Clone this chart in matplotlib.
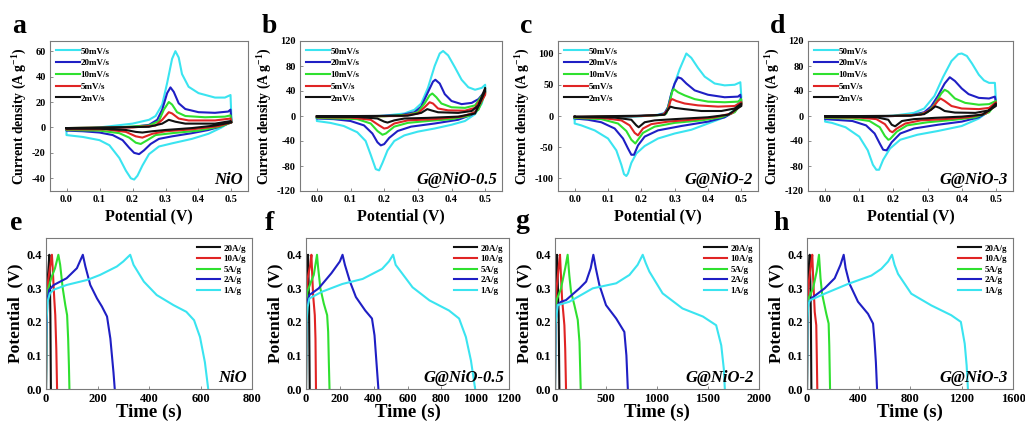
import matplotlib
matplotlib.use("Agg")
import matplotlib.pyplot as plt
from matplotlib.ticker import FormatStrFormatter

plt.rcParams['font.family'] = 'Liberation Serif'
plt.rcParams['font.weight'] = 'bold'
plt.rcParams['axes.unicode_minus'] = False
plt.rcParams['mathtext.fontset'] = 'custom'
plt.rcParams['mathtext.rm'] = 'Liberation Serif:bold'
plt.rcParams['mathtext.bf'] = 'Liberation Serif:bold'
plt.rcParams['mathtext.default'] = 'rm'

samples = ['NiO', 'G@NiO-0.5', 'G@NiO-2', 'G@NiO-3']
scan_labels = ['50mV/s', '20mV/s', '10mV/s', '5mV/s', '2mV/s']
scan_colors = ['#3ae4f0', '#1f1fc4', '#2fe02f', '#e02424', '#111111']
rate_labels = ['20A/g', '10A/g', '5A/g', '2A/g', '1A/g']
rate_colors = ['#111111', '#e02424', '#2fe02f', '#1f1fc4', '#3ae4f0']

# ---- CV loops (potential V, current density A/g): anodic sweep then cathodic sweep
nio_50 = [(0, -2), (0.1, 0), (0.2, 3), (0.25, 6), (0.27, 9), (0.29, 18), (0.305, 35), (0.32, 54), (0.33, 60),
          (0.34, 55), (0.35, 42), (0.37, 32), (0.4, 27), (0.45, 23.5), (0.48, 23.5), (0.497, 25.5),
          (0.5, 5), (0.47, 0), (0.43, -5), (0.38, -9), (0.32, -12.5), (0.28, -15), (0.25, -21), (0.23, -30),
          (0.215, -38), (0.205, -41), (0.195, -40), (0.18, -34), (0.16, -24), (0.13, -14), (0.1, -10),
          (0.05, -7.5), (0, -6)]
nio_20 = [(0, -1), (0.1, -0.5), (0.2, 0.5), (0.25, 2), (0.275, 6), (0.29, 14), (0.305, 27), (0.315, 31.5),
          (0.325, 28), (0.34, 19), (0.36, 14.5), (0.4, 12), (0.45, 11.5), (0.49, 12.5), (0.497, 14),
          (0.5, 4), (0.47, 1), (0.43, -2), (0.38, -4.5), (0.32, -7), (0.28, -9), (0.255, -13), (0.235, -18),
          (0.22, -21), (0.205, -20), (0.19, -16), (0.17, -10), (0.14, -6), (0.1, -4), (0.05, -3), (0, -2.5)]
nio_10 = [(0, -0.5), (0.15, 0), (0.25, 1.5), (0.28, 5), (0.295, 14), (0.31, 20), (0.32, 18), (0.335, 12),
          (0.36, 9), (0.42, 8), (0.48, 8.5), (0.497, 9.5),
          (0.5, 4), (0.47, 1), (0.4, -2.5), (0.32, -4.5), (0.27, -6), (0.245, -10), (0.225, -13), (0.21, -12),
          (0.19, -8), (0.16, -4.5), (0.1, -2.5), (0, -2)]
nio_5 = [(0, -0.5), (0.2, 0), (0.27, 1.5), (0.29, 6), (0.31, 12), (0.32, 11), (0.34, 7), (0.37, 5.5),
         (0.45, 5.5), (0.497, 7),
         (0.5, 4), (0.46, 1), (0.38, -1.5), (0.3, -3), (0.26, -5), (0.23, -8), (0.21, -7), (0.18, -3.5),
         (0.12, -1.5), (0, -1.5)]
nio_2 = [(0, -0.5), (0.25, 0.5), (0.29, 3), (0.31, 6), (0.33, 4.5), (0.36, 3), (0.45, 3), (0.497, 5),
         (0.5, 4), (0.45, 1.5), (0.38, -0.5), (0.3, -2), (0.26, -3), (0.23, -4), (0.21, -3.5), (0.18, -2),
         (0.1, -1), (0, -1)]

g05_50 = [(0, -3), (0.1, -2), (0.2, 0.5), (0.26, 4), (0.29, 10), (0.31, 20), (0.33, 45), (0.35, 80),
          (0.365, 100), (0.375, 104), (0.39, 97), (0.41, 78), (0.43, 58), (0.45, 46), (0.47, 42), (0.49, 45),
          (0.5, 50),
          (0.5, 42), (0.49, 20), (0.47, 3), (0.44, -8), (0.4, -14), (0.35, -20), (0.3, -25), (0.26, -31),
          (0.23, -40), (0.21, -55), (0.195, -75), (0.185, -87), (0.175, -85), (0.16, -62), (0.145, -40),
          (0.12, -26), (0.08, -16), (0.04, -11), (0, -8)]
g05_20 = [(0, -2), (0.15, -1), (0.25, 1.5), (0.29, 6), (0.31, 15), (0.33, 38), (0.345, 55), (0.352, 58),
          (0.365, 52), (0.38, 35), (0.4, 24), (0.43, 19), (0.46, 21), (0.48, 27), (0.5, 40),
          (0.5, 38), (0.48, 12), (0.46, 2), (0.42, -6), (0.35, -12), (0.28, -17), (0.24, -24), (0.215, -35),
          (0.2, -45), (0.19, -47), (0.18, -42), (0.165, -28), (0.14, -15), (0.1, -8), (0.05, -5), (0, -4)]
g05_10 = [(0, -1.5), (0.2, -0.5), (0.27, 2), (0.3, 6), (0.32, 20), (0.335, 33), (0.343, 36), (0.355, 30),
          (0.37, 20), (0.4, 14), (0.44, 13), (0.47, 17), (0.5, 40),
          (0.5, 36), (0.48, 10), (0.45, 0), (0.4, -5), (0.33, -8), (0.27, -11), (0.23, -17), (0.205, -28),
          (0.195, -30), (0.18, -24), (0.16, -12), (0.12, -5), (0, -3)]
g05_5 = [(0, -1), (0.25, 0), (0.3, 4), (0.32, 14), (0.335, 22), (0.345, 20), (0.36, 12), (0.39, 9),
         (0.44, 8.5), (0.47, 13), (0.5, 38),
         (0.5, 34), (0.47, 6), (0.43, -1), (0.35, -5), (0.27, -7), (0.23, -12), (0.21, -19), (0.2, -20),
         (0.185, -15), (0.16, -6), (0.1, -2.5), (0, -2)]
g05_2 = [(0, -0.5), (0.27, 0.5), (0.31, 5), (0.328, 11), (0.34, 9), (0.36, 6), (0.42, 5), (0.46, 8),
         (0.48, 17), (0.5, 45),
         (0.5, 40), (0.47, 4), (0.42, -1), (0.33, -3), (0.26, -4), (0.23, -7), (0.21, -10.5), (0.2, -9),
         (0.18, -4), (0.12, -1.5), (0, -1)]

g2_50 = [(0, -5), (0.1, -3), (0.2, -0.5), (0.25, 2), (0.27, 5), (0.28, 14), (0.29, 35), (0.3, 52),
         (0.315, 75), (0.335, 100), (0.35, 93), (0.37, 77), (0.39, 63), (0.42, 52), (0.45, 49), (0.48, 50),
         (0.497, 54),
         (0.5, 30), (0.48, 10), (0.45, -2), (0.4, -12), (0.35, -22), (0.3, -28), (0.25, -36), (0.21, -48),
         (0.185, -60), (0.17, -75), (0.16, -92), (0.155, -96), (0.148, -93), (0.14, -78), (0.125, -55),
         (0.1, -36), (0.06, -23), (0.02, -15), (0, -12)]
g2_20 = [(0, -3), (0.15, -1), (0.25, 1.5), (0.27, 4), (0.28, 14), (0.29, 36), (0.3, 52), (0.31, 62),
         (0.32, 60), (0.335, 52), (0.36, 41), (0.4, 34), (0.45, 30), (0.49, 31), (0.497, 34),
         (0.5, 22), (0.48, 7), (0.45, -2), (0.4, -9), (0.32, -16), (0.25, -23), (0.21, -33), (0.19, -47),
         (0.178, -62), (0.17, -62), (0.16, -52), (0.145, -36), (0.12, -20), (0.08, -10), (0.04, -6), (0, -4)]
g2_10 = [(0, -2), (0.2, 0), (0.26, 1.5), (0.275, 4), (0.285, 22), (0.293, 40), (0.298, 43), (0.31, 38),
         (0.33, 33), (0.36, 27), (0.4, 23), (0.45, 22), (0.49, 23), (0.5, 27),
         (0.5, 20), (0.48, 6), (0.44, -2), (0.38, -7), (0.3, -11), (0.24, -17), (0.205, -27), (0.19, -38),
         (0.182, -44), (0.17, -38), (0.155, -24), (0.13, -12), (0.08, -5), (0, -3)]
g2_5 = [(0, -1.5), (0.2, 0), (0.265, 2), (0.28, 10), (0.288, 25), (0.293, 27), (0.305, 24), (0.33, 20),
        (0.37, 17), (0.43, 15), (0.48, 16), (0.5, 22),
        (0.5, 18), (0.47, 4), (0.42, -2), (0.35, -6), (0.28, -9), (0.23, -13), (0.205, -20), (0.19, -31),
        (0.18, -27), (0.165, -15), (0.14, -7), (0.08, -3), (0, -2)]
g2_2 = [(0, -1), (0.2, 0.5), (0.27, 2), (0.28, 10), (0.287, 15), (0.3, 13), (0.33, 11), (0.38, 8),
        (0.44, 8), (0.48, 12), (0.5, 20),
        (0.5, 16), (0.46, 2), (0.4, -2), (0.3, -5), (0.24, -7), (0.21, -10), (0.192, -18), (0.185, -15),
        (0.17, -6), (0.12, -2.5), (0, -1.5)]

g3_50 = [(0, -3), (0.1, -2), (0.2, 0.5), (0.26, 5), (0.29, 12), (0.32, 32), (0.345, 62), (0.37, 88),
         (0.39, 99), (0.4, 100), (0.415, 96), (0.43, 84), (0.45, 66), (0.465, 57), (0.48, 53), (0.497, 53),
         (0.5, 25), (0.48, 8), (0.45, -4), (0.4, -16), (0.33, -24), (0.27, -30), (0.22, -38), (0.19, -52),
         (0.17, -70), (0.158, -86), (0.15, -86), (0.14, -78), (0.125, -55), (0.1, -33), (0.06, -18),
         (0.02, -11), (0, -9)]
g3_20 = [(0, -2), (0.15, -1), (0.25, 1), (0.29, 6), (0.31, 15), (0.33, 32), (0.35, 52), (0.365, 62),
         (0.38, 56), (0.4, 44), (0.42, 35), (0.45, 29), (0.48, 28), (0.497, 31),
         (0.5, 22), (0.48, 7), (0.45, -2), (0.4, -9), (0.33, -14), (0.26, -20), (0.22, -28), (0.195, -42),
         (0.18, -55), (0.17, -54), (0.16, -44), (0.145, -28), (0.12, -15), (0.08, -8), (0, -5)]
g3_10 = [(0, -1.5), (0.2, 0), (0.27, 2), (0.3, 6), (0.32, 18), (0.34, 36), (0.35, 42), (0.36, 39),
         (0.38, 28), (0.41, 21), (0.45, 18), (0.48, 19), (0.5, 24),
         (0.5, 20), (0.48, 6), (0.44, -2), (0.38, -6), (0.3, -10), (0.24, -15), (0.21, -25), (0.19, -37),
         (0.185, -38), (0.175, -32), (0.16, -18), (0.13, -8), (0.08, -4), (0, -3)]
g3_5 = [(0, -1), (0.2, 0), (0.28, 2), (0.31, 10), (0.33, 24), (0.338, 28), (0.35, 24), (0.37, 16),
        (0.4, 12), (0.45, 11), (0.48, 13), (0.5, 22),
        (0.5, 18), (0.47, 4), (0.42, -2), (0.35, -5), (0.28, -7), (0.235, -12), (0.21, -20), (0.197, -26),
        (0.19, -24), (0.175, -13), (0.15, -5), (0.1, -2.5), (0, -2)]
g3_2 = [(0, -0.5), (0.25, 0.5), (0.29, 3), (0.31, 10), (0.323, 15.5), (0.335, 13), (0.35, 8), (0.38, 5.5),
        (0.44, 5), (0.48, 9), (0.5, 20),
        (0.5, 16), (0.46, 2), (0.4, -1), (0.32, -3), (0.26, -5), (0.225, -8), (0.205, -16.5), (0.195, -14),
        (0.185, -6), (0.15, -2), (0, -1)]

cv_sets = [[nio_50, nio_20, nio_10, nio_5, nio_2],
           [g05_50, g05_20, g05_10, g05_5, g05_2],
           [g2_50, g2_20, g2_10, g2_5, g2_2],
           [g3_50, g3_20, g3_10, g3_5, g3_2]]

# ---- charge/discharge curves (time s, potential V), order 20, 10, 5, 2, 1 A/g
nio_gcd_20 = [(0, 0), (2, 0.26), (7, 0.33), (13, 0.4), (15, 0.33), (17, 0.22), (19, 0)]
nio_gcd_10 = [(0, 0), (2, 0.25), (8, 0.32), (15, 0.36), (23, 0.4), (26, 0.36), (32, 0.27), (36, 0.22),
              (40, 0.12), (43, 0)]
nio_gcd_5 = [(0, 0), (2, 0.22), (6, 0.29), (20, 0.33), (35, 0.36), (48, 0.4), (55, 0.37), (65, 0.3),
             (75, 0.25), (82, 0.22), (86, 0.15), (89, 0.07), (91, 0)]
nio_gcd_2 = [(0, 0), (1, 0.15), (5, 0.26), (12, 0.295), (30, 0.31), (80, 0.33), (120, 0.36), (143, 0.4),
             (153, 0.365), (172, 0.31), (198, 0.27), (217, 0.246), (237, 0.216), (250, 0.15), (262, 0.05),
             (267, 0)]
nio_gcd_1 = [(0, 0), (2, 0.2), (6, 0.26), (15, 0.285), (30, 0.296), (80, 0.31), (160, 0.325), (210, 0.34),
             (275, 0.365), (300, 0.38), (327, 0.4), (340, 0.37), (360, 0.345), (380, 0.32), (430, 0.28),
             (495, 0.25), (545, 0.23), (575, 0.205), (598, 0.155), (617, 0.08), (630, 0)]

g05_gcd_20 = [(0, 0), (2, 0.25), (8, 0.35), (12, 0.4), (15, 0.33), (18, 0.25), (22, 0)]
g05_gcd_10 = [(0, 0), (2, 0.26), (10, 0.33), (25, 0.37), (32, 0.4), (36, 0.35), (42, 0.28), (52, 0.22),
              (56, 0.15), (59, 0)]
g05_gcd_5 = [(0, 0), (2, 0.25), (8, 0.29), (30, 0.32), (46, 0.34), (65, 0.4), (72, 0.36), (85, 0.3),
             (105, 0.255), (125, 0.22), (131, 0.17), (135, 0.08), (139, 0)]
g05_gcd_2 = [(0, 0), (2, 0.22), (8, 0.26), (20, 0.28), (75, 0.3), (150, 0.345), (200, 0.38), (216, 0.4),
             (230, 0.37), (260, 0.32), (295, 0.274), (350, 0.234), (390, 0.21), (405, 0.16), (415, 0.09),
             (428, 0)]
g05_gcd_1 = [(0, 0), (3, 0.2), (10, 0.245), (20, 0.27), (95, 0.29), (215, 0.313), (335, 0.328),
             (450, 0.358), (490, 0.38), (515, 0.4), (530, 0.37), (560, 0.35), (630, 0.303), (730, 0.264),
             (845, 0.234), (905, 0.21), (945, 0.155), (975, 0.085), (1000, 0)]

g2_gcd_20 = [(0, 0), (2, 0.26), (10, 0.33), (20, 0.4), (26, 0.33), (36, 0.22), (43, 0)]
g2_gcd_10 = [(0, 0), (3, 0.25), (15, 0.3), (35, 0.36), (49, 0.4), (58, 0.34), (69, 0.27), (92, 0.19),
             (100, 0.12), (108, 0)]
g2_gcd_5 = [(0, 0), (3, 0.22), (10, 0.26), (59, 0.3), (100, 0.36), (124, 0.4), (140, 0.34), (157, 0.29),
            (190, 0.25), (223, 0.206), (240, 0.14), (252, 0)]
g2_gcd_2 = [(0, 0), (5, 0.2), (26, 0.25), (60, 0.26), (108, 0.265), (240, 0.3), (305, 0.32), (350, 0.36),
            (376, 0.4), (400, 0.36), (435, 0.31), (500, 0.25), (600, 0.21), (680, 0.17), (700, 0.1),
            (714, 0)]
g2_gcd_1 = [(0, 0), (5, 0.19), (26, 0.25), (140, 0.26), (370, 0.3), (600, 0.315), (730, 0.34),
            (810, 0.37), (860, 0.4), (890, 0.375), (925, 0.35), (1055, 0.285), (1250, 0.24),
            (1450, 0.216), (1580, 0.19), (1630, 0.13), (1655, 0.06), (1665, 0)]

g3_gcd_20 = [(0, 0), (2, 0.25), (10, 0.33), (21, 0.4), (26, 0.32), (30, 0.22), (34, 0)]
g3_gcd_10 = [(0, 0), (3, 0.26), (15, 0.32), (30, 0.37), (41, 0.4), (48, 0.33), (60, 0.23), (72, 0.19),
             (76, 0.1), (80, 0)]
g3_gcd_5 = [(0, 0), (3, 0.24), (12, 0.27), (47, 0.3), (75, 0.35), (93, 0.4), (105, 0.33), (117, 0.284),
            (150, 0.224), (168, 0.195), (173, 0.13), (179, 0)]
g3_gcd_2 = [(0, 0), (3, 0.22), (10, 0.255), (34, 0.27), (137, 0.3), (215, 0.33), (260, 0.37), (285, 0.4),
            (300, 0.36), (331, 0.313), (396, 0.26), (474, 0.224), (513, 0.195), (525, 0.14), (535, 0.08),
            (544, 0)]
g3_gcd_1 = [(0, 0), (3, 0.2), (10, 0.25), (21, 0.264), (137, 0.284), (318, 0.313), (500, 0.338),
            (577, 0.358), (630, 0.38), (660, 0.4), (680, 0.37), (707, 0.343), (810, 0.284), (966, 0.249),
            (1120, 0.22), (1195, 0.2), (1225, 0.135), (1240, 0.07), (1250, 0)]

gcd_sets = [[nio_gcd_20, nio_gcd_10, nio_gcd_5, nio_gcd_2, nio_gcd_1],
            [g05_gcd_20, g05_gcd_10, g05_gcd_5, g05_gcd_2, g05_gcd_1],
            [g2_gcd_20, g2_gcd_10, g2_gcd_5, g2_gcd_2, g2_gcd_1],
            [g3_gcd_20, g3_gcd_10, g3_gcd_5, g3_gcd_2, g3_gcd_1]]

cv_yticks = [[-40, -20, 0, 20, 40, 60],
             [-120, -80, -40, 0, 40, 80, 120],
             [-100, -50, 0, 50, 100],
             [-120, -80, -40, 0, 40, 80, 120]]
cv_ylims = [(-50, 68), (-120, 120), (-120, 120), (-120, 120)]
gcd_xticks = [[0, 200, 400, 600, 800],
              [0, 200, 400, 600, 800, 1000, 1200],
              [0, 500, 1000, 1500, 2000],
              [0, 400, 800, 1200, 1600]]

W, H = 1025, 423
# axes boxes in pixels: left, top, right, bottom
top_boxes = [(50, 41, 248, 191), (300, 41, 502, 191), (558, 41, 758, 191), (808, 41, 1013, 191)]
bot_boxes = [(46, 238, 252, 389), (306, 238, 509, 389), (555, 238, 759, 389), (807, 238, 1013, 389)]
letters_top = [('a', 12, 33), ('b', 262, 33), ('c', 520, 33), ('d', 770, 33)]
letters_bot = [('e', 10, 230), ('f', 265, 230), ('g', 515, 228), ('h', 773, 230)]


def box(b):
    l, t, r, bt = b
    return [l / W, 1 - bt / H, (r - l) / W, (bt - t) / H]


def style(ax, size):
    for s in ax.spines.values():
        s.set_color('#7a7a7a')
        s.set_linewidth(0.8)
    ax.tick_params(direction='in', length=2, width=0.6, color='#7a7a7a', labelsize=size, pad=3)
    for lab in ax.get_xticklabels() + ax.get_yticklabels():
        lab.set_fontweight('bold')


fig = plt.figure(figsize=(W / 100, H / 100), dpi=100)

for i in range(4):
    ax = fig.add_axes(box(top_boxes[i]))
    for curve, c, lab in zip(cv_sets[i], scan_colors, scan_labels):
        pts = curve + [curve[0]]
        ax.plot([p[0] for p in pts], [p[1] for p in pts], color=c, lw=1.5, label=lab)
    ax.set_xlim(-0.05, 0.55)
    ax.set_ylim(*cv_ylims[i])
    ax.set_xticks([0, 0.1, 0.2, 0.3, 0.4, 0.5])
    ax.set_yticks(cv_yticks[i])
    ax.xaxis.set_major_formatter(FormatStrFormatter('%.1f'))
    style(ax, 7.5)
    ax.set_xlabel('Potential (V)', fontsize=11.5, fontweight='bold', labelpad=3)
    ax.set_ylabel(r'Current density (A g$^{-1}$)', fontsize=9.8, fontweight='bold', labelpad=2)
    ax.legend(loc='upper left', frameon=False, handlelength=2.6, handletextpad=0.1,
              labelspacing=0.38, borderaxespad=0.3, prop={'weight': 'bold', 'size': 6.5})
    ax.text(0.975, 0.05, samples[i], transform=ax.transAxes, ha='right', va='baseline',
            fontsize=12, fontweight='bold', fontstyle='italic')
    ch, x, y = letters_top[i]
    fig.text(x / W, 1 - y / H, ch, fontsize=20, fontweight='bold', va='baseline')

for i in range(4):
    ax = fig.add_axes(box(bot_boxes[i]))
    for curve, c, lab in zip(gcd_sets[i], rate_colors, rate_labels):
        ax.plot([p[0] for p in curve], [p[1] for p in curve], color=c, lw=1.5, label=lab)
    ax.set_xlim(gcd_xticks[i][0], gcd_xticks[i][-1])
    ax.set_ylim(0, 0.45)
    ax.set_xticks(gcd_xticks[i])
    ax.set_yticks([0, 0.1, 0.2, 0.3, 0.4])
    ax.yaxis.set_major_formatter(FormatStrFormatter('%.1f'))
    style(ax, 9)
    ax.set_xlabel('Time (s)', fontsize=13.5, fontweight='bold', labelpad=-1)
    ax.set_ylabel('Potential  (V)', fontsize=12.5, fontweight='bold', labelpad=2)
    ax.legend(loc='upper right', frameon=False, handlelength=2.6, handletextpad=0.3,
              labelspacing=0.25, borderaxespad=0.3, prop={'weight': 'bold', 'size': 6.5})
    ax.text(0.975, 0.046, samples[i], transform=ax.transAxes, ha='right', va='baseline',
            fontsize=12, fontweight='bold', fontstyle='italic')
    ch, x, y = letters_bot[i]
    fig.text(x / W, 1 - y / H, ch, fontsize=20, fontweight='bold', va='baseline')

fig.savefig('out.png', dpi=100)
